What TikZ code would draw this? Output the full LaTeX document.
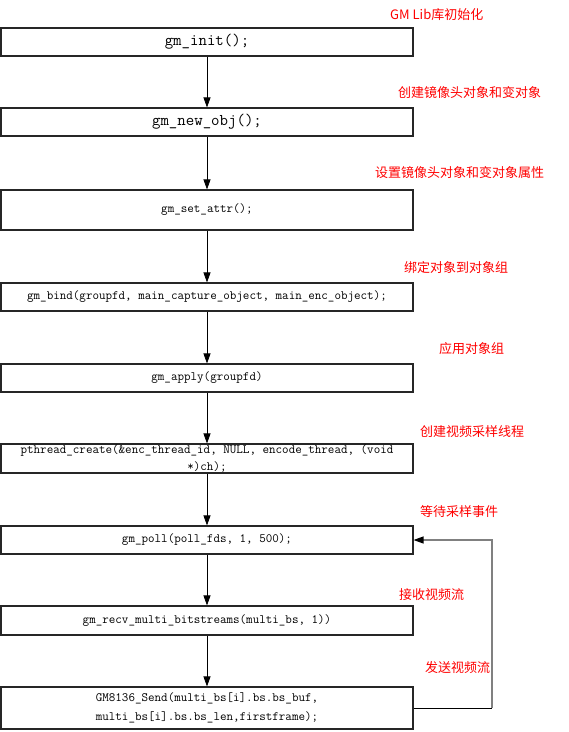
\documentclass[tikz,border=0pt]{standalone}
\usepackage{fontspec}
\newfontfamily\cjk{Noto Sans CJK SC}
\usetikzlibrary{arrows.meta}
\begin{document}
\begin{tikzpicture}[x=1pt,y=-1pt,
  box/.style={draw=black!85,line width=1.1pt,minimum width=412pt,minimum height=28pt,inner sep=0pt,align=center,font=\fontsize{12.7}{18}\selectfont\ttfamily},
  big/.style={font=\fontsize{16.4}{18}\selectfont\ttfamily},
  note/.style={text=red,anchor=west,inner sep=0pt,font=\fontsize{13}{15}\selectfont\cjk},
  flow/.style={-{Triangle[length=10pt,width=7pt]},line width=0.8pt,black}]
\fill[white] (0,0) rectangle (569,732);
\useasboundingbox (0,0) rectangle (569,732);
% boxes
\node[box,big] (b1) at (207,42) {gm\_init();};
\node[box,big] (b2) at (207,122) {gm\_new\_obj();};
\node[box,minimum height=40pt] (b3) at (207,210) {gm\_set\_attr();};
\node[box] (b4) at (207,297) {gm\_bind(groupfd, main\_capture\_object, main\_enc\_object);};
\node[box] (b5) at (207,378) {gm\_apply(groupfd)};
\node[box,minimum height=29pt,font=\fontsize{12.7}{17.5}\selectfont\ttfamily] (b6) at (207,458.5) {pthread\_create(\&enc\_thread\_id, NULL, encode\_thread, (void\\*)ch);};
\node[box] (b7) at (207,540) {gm\_poll(poll\_fds, 1, 500);};
\node[box,minimum height=29pt] (b8) at (207,620.5) {gm\_recv\_multi\_bitstreams(multi\_bs, 1))};
\node[box,minimum height=42pt,font=\fontsize{12.7}{19}\selectfont\ttfamily] (b9) at (207,708) {GM8136\_Send(multi\_bs[i].bs.bs\_buf,\\multi\_bs[i].bs.bs\_len,firstframe);};
% labels
\node[note] (n1) at (390,15) {GM Lib库初始化};
\node[note] (n2) at (398,93) {创建镜像头对象和变对象};
\node[note] (n3) at (375,173) {设置镜像头对象和变对象属性};
\node[note] (n4) at (404,268) {绑定对象到对象组};
\node[note] (n5) at (439,349) {应用对象组};
\node[note] (n6) at (420,432) {创建视频采样线程};
\node[note] (n7) at (420,512) {等待采样事件};
\node[note] (n8) at (399,595) {接收视频流};
\node[note] (n9) at (425,668) {发送视频流};
% connectors
\draw[flow] (b1) -- (b2);
\draw[flow] (b2) -- (b3);
\draw[flow] (b3) -- (b4);
\draw[flow] (b4) -- (b5);
\draw[flow] (b5) -- (b6);
\draw[flow] (b6) -- (b7);
\draw[flow] (b7) -- (b8);
\draw[flow] (b8) -- (b9);
% feedback loop
\coordinate (c1) at (492,708);
\coordinate (c2) at (492,540);
\draw[black,line width=1pt] (b9.east) -- (c1);
\draw[gray,line width=1.2pt,-{Triangle[length=10pt,width=7pt,black]}] (c1) -- (c2) -- (b7.east);
\end{tikzpicture}
\end{document}
